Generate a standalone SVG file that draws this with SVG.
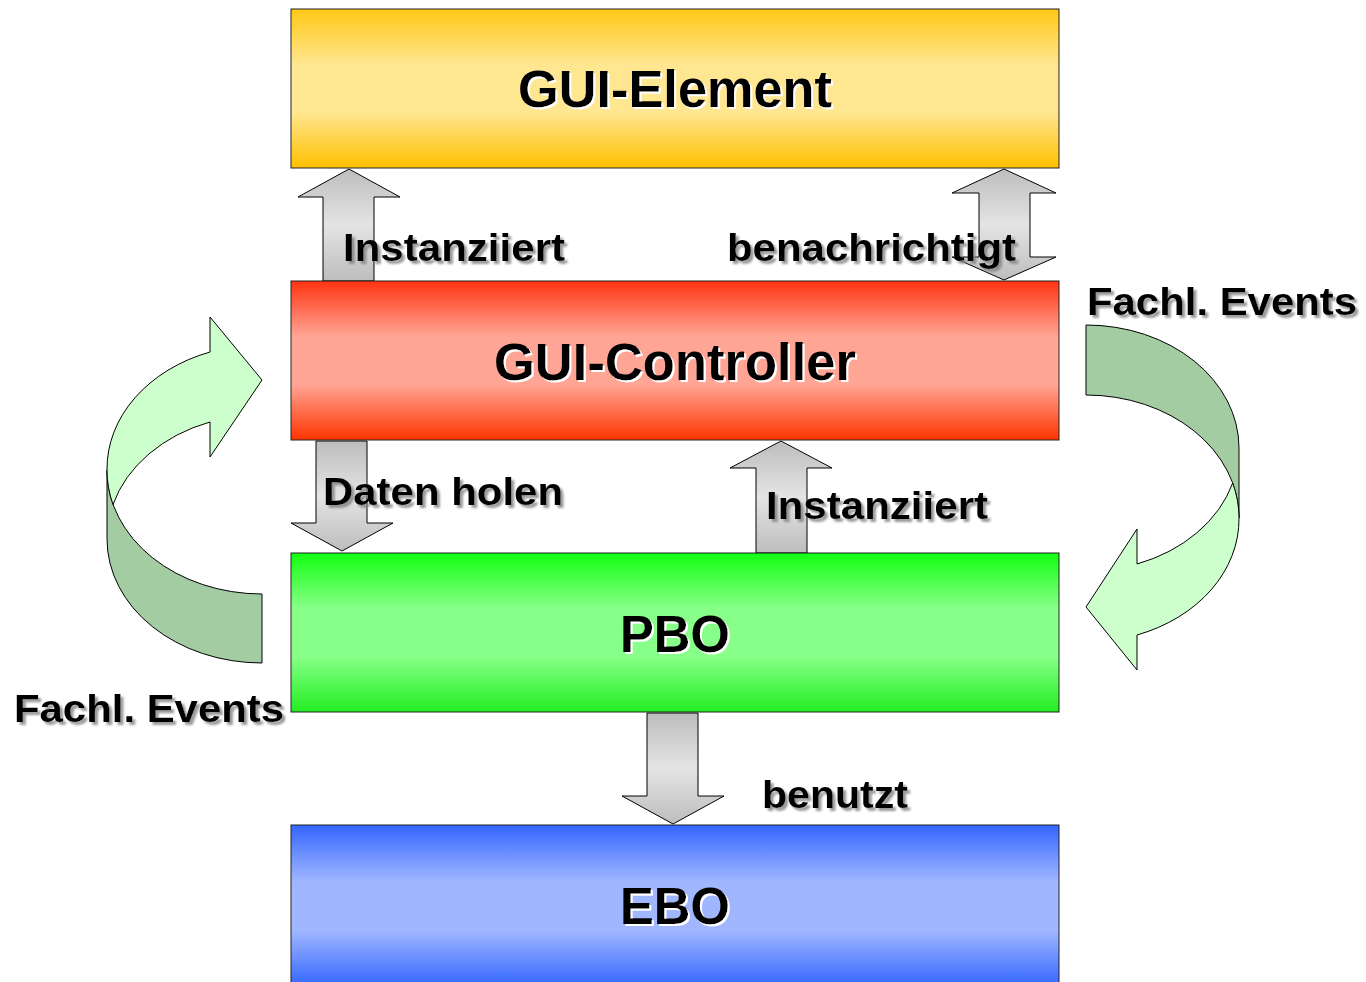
<svg xmlns="http://www.w3.org/2000/svg" width="1366" height="982" viewBox="0 0 1366 982">
<defs>
<linearGradient id="gY" x1="0" y1="0" x2="0" y2="1"><stop offset="0" stop-color="#FFC815"/><stop offset="0.35" stop-color="#FFE690"/><stop offset="0.65" stop-color="#FFE690"/><stop offset="1" stop-color="#FFC000"/></linearGradient>
<linearGradient id="gR" x1="0" y1="0" x2="0" y2="1"><stop offset="0" stop-color="#FF3311"/><stop offset="0.35" stop-color="#FFA595"/><stop offset="0.65" stop-color="#FFA595"/><stop offset="1" stop-color="#FF3300"/></linearGradient>
<linearGradient id="gG" x1="0" y1="0" x2="0" y2="1"><stop offset="0" stop-color="#11FF11"/><stop offset="0.35" stop-color="#88FF88"/><stop offset="0.65" stop-color="#88FF88"/><stop offset="1" stop-color="#22EE22"/></linearGradient>
<linearGradient id="gB" x1="0" y1="0" x2="0" y2="1"><stop offset="0" stop-color="#3366FF"/><stop offset="0.35" stop-color="#A0B6FF"/><stop offset="0.65" stop-color="#A0B6FF"/><stop offset="1" stop-color="#3366FF"/></linearGradient>
<linearGradient id="gA" x1="0" y1="0" x2="0" y2="1"><stop offset="0" stop-color="#BDBDBD"/><stop offset="0.5" stop-color="#E4E4E4"/><stop offset="1" stop-color="#BDBDBD"/></linearGradient>
<filter id="wsh" x="-5%" y="-20%" width="115%" height="150%"><feDropShadow dx="2" dy="2" stdDeviation="0.3" flood-color="#ffffff" flood-opacity="1"/></filter>
<filter id="gsh" x="-5%" y="-20%" width="115%" height="150%"><feDropShadow dx="3" dy="3" stdDeviation="1" flood-color="#808080" flood-opacity="0.8"/></filter>
</defs>
<style>
.box{stroke:#222;stroke-width:1}
.arr{fill:url(#gA);stroke:#000;stroke-width:1;stroke-linejoin:miter}
.dark{fill:#A3CCA3;stroke:#000;stroke-width:1}
.light{fill:#CCFFCC;stroke:#000;stroke-width:1}
.title{font-family:"Liberation Sans",Arial,sans-serif;font-weight:bold;font-size:51px;fill:#000;filter:url(#wsh)}
.lbl{font-family:"Liberation Sans",Arial,sans-serif;font-weight:bold;font-size:39px;fill:#000;filter:url(#gsh)}
</style>
<rect width="1366" height="982" fill="#fff"/>

<g id="connectors">
  <path class="arr" d="M323,281 L323,197 L298,197 L349,169 L400,197 L374,197 L374,281 Z"/>
  <path class="arr" d="M979,193 L952,193 L1004,169 L1056,193 L1030,193 L1030,257 L1056,257 L1004,280 L952,257 L979,257 Z"/>
  <path class="arr" d="M316,441 L367,441 L367,523 L393,523 L342,551 L291,523 L316,523 Z"/>
  <path class="arr" d="M756,553 L756,468 L730,468 L781,441 L832,468 L807,468 L807,553 Z"/>
  <path class="arr" d="M647,713 L698,713 L698,796 L724,796 L673,824 L622,796 L647,796 Z"/>
  <g id="curve-left">
    <path class="dark" d="M107,470 A155,124 0 0 0 262,594 L262,663 A155,124 0 0 1 107,539 Z"/>
    <path class="light" d="M107,470 A155,124 0 0 1 210,352 L210,317 L262,380 L210,457 L210,422 A155,124 0 0 0 113,504.5 A155,124 0 0 1 107,470 Z"/>
  </g>
  <g id="curve-right">
    <path class="dark" d="M1086,325 A153,123 0 0 1 1239,448 L1239,518 A153,123 0 0 0 1086,395 Z"/>
    <path class="light" d="M1239,518 A153,123 0 0 1 1137,635 L1137,670 L1086,607 L1137,529 L1137,564 A153,123 0 0 0 1232.7,483 A153,123 0 0 1 1239,518 Z"/>
  </g>
</g>

<g id="gui-element">
  <rect class="box" x="291" y="9" width="768" height="159" fill="url(#gY)"/>
  <text class="title" x="675" y="107" text-anchor="middle" textLength="314" lengthAdjust="spacingAndGlyphs">GUI-Element</text>
</g>
<g id="gui-controller">
  <rect class="box" x="291" y="281" width="768" height="159" fill="url(#gR)"/>
  <text class="title" x="675" y="380" text-anchor="middle" textLength="362" lengthAdjust="spacingAndGlyphs">GUI-Controller</text>
</g>
<g id="pbo">
  <rect class="box" x="291" y="553" width="768" height="159" fill="url(#gG)"/>
  <text class="title" x="675" y="652" text-anchor="middle" textLength="110" lengthAdjust="spacingAndGlyphs">PBO</text>
</g>
<g id="ebo">
  <rect class="box" x="291" y="825" width="768" height="162" fill="url(#gB)"/>
  <text class="title" x="675" y="924" text-anchor="middle" textLength="110" lengthAdjust="spacingAndGlyphs">EBO</text>
</g>

<g id="labels">
  <text class="lbl" x="343" y="261" textLength="222" lengthAdjust="spacingAndGlyphs">Instanziiert</text>
  <text class="lbl" x="727" y="261" textLength="289" lengthAdjust="spacingAndGlyphs">benachrichtigt</text>
  <text class="lbl" x="1087" y="315" textLength="270" lengthAdjust="spacingAndGlyphs">Fachl. Events</text>
  <text class="lbl" x="323" y="505" textLength="240" lengthAdjust="spacingAndGlyphs">Daten holen</text>
  <text class="lbl" x="766" y="519" textLength="222" lengthAdjust="spacingAndGlyphs">Instanziiert</text>
  <text class="lbl" x="14" y="722" textLength="270" lengthAdjust="spacingAndGlyphs">Fachl. Events</text>
  <text class="lbl" x="762" y="808" textLength="146" lengthAdjust="spacingAndGlyphs">benutzt</text>
</g>
</svg>
